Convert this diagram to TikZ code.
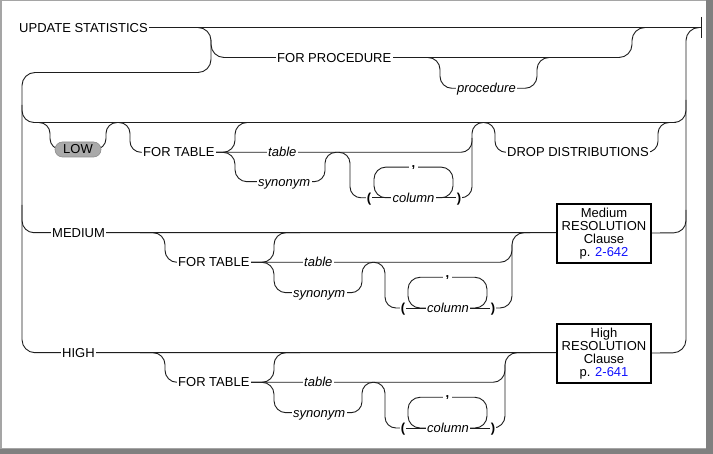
\documentclass[tikz,border=0pt]{standalone}
\usepackage{fontspec}
\setmainfont{Liberation Sans}
\definecolor{frameDark}{RGB}{128,128,128}
\definecolor{frameLight}{RGB}{165,165,165}
\definecolor{lowGray}{RGB}{170,170,170}
\definecolor{lowEdge}{RGB}{140,140,140}
\definecolor{linkBlue}{RGB}{20,20,255}
\definecolor{lineC}{RGB}{30,30,30}
\newcommand\kwfont{\fontsize{13}{13.1}\selectfont}
\pgfdeclarelayer{framelayer}
\pgfdeclarelayer{raillayer}
\pgfsetlayers{framelayer,raillayer,main}
\newcommand\ftrow[3]{%
 \begin{scope}[shift={(0,#1)}]
   \node[kwstyle] (ft#3) at (176.5,29.6) {FOR TABLE};
   \node[varstyle] (tb#3) at (302.5,29.6) {table};
   \node[varstyle] (sy#3) at (291.5,60) {synonym};
   \node[parstyle] (lp#3) at (403,75.3) {(};
   \node[varstyle,anchor=center] (col#3) at (448,75.3) {column};
   \node[parstyle] (rp#3) at (493,75.3) {)};
   \node[commastyle] (cm#3) at (447.5,44.6) {,};
   \begin{pgfonlayer}{raillayer}
     \draw[railpath] (140,0) -- (165,0) -- (165,29.6) -- (200,29.6);
     \draw[railpath] (ft#3.center) -- (274,29.6) -- (274,0) -- (300,0);
     \draw[railpath] (ft#3.center) -- (274,29.6) -- (274,60) -- (sy#3.center);
     \draw[railpath] (ft#3.center) -- (#2,29.6) -- (#2,12);
     \draw[railpath,rounded corners=11pt] (sy#3.center) -- (362,60) -- (362,29.6) -- (385,29.6) -- (385,75.3) -- (lp#3.center);
     \draw[railpath] (408,44.6) rectangle (487,75.3);
     \draw[railpath] (lp#3.center) -- (rp#3.center);
     \draw[railpath] (rp#3.center) -- (#2,75.3) -- (#2,0) -- (530,0);
   \end{pgfonlayer}
 \end{scope}}
\begin{document}
\begin{tikzpicture}[x=1pt,y=-1pt,
  kwstyle/.style={font=\kwfont, fill=white, inner sep=1.5pt, text height=9.3pt, text depth=0pt, anchor=west},
  varstyle/.style={kwstyle, font=\kwfont\itshape},
  parstyle/.style={kwstyle, font=\kwfont\bfseries, anchor=center, inner xsep=1pt},
  commastyle/.style={font=\kwfont\bfseries, fill=white, inner xsep=2.5pt, inner ysep=1pt, text height=1.5pt, text depth=1.5pt},
  railpath/.style={draw=lineC, line width=0.9pt, rounded corners=12pt},
  clausebox/.style={draw=black, line width=2.2pt, fill=white, minimum width=94pt, minimum height=59pt, inner sep=0pt, align=center, font=\kwfont},
  lowbox/.style={fill=lowGray, draw=lowEdge, line width=0.6pt, rounded corners=7.5pt, minimum width=46pt, minimum height=15pt, inner sep=0pt, font=\kwfont},
]
\useasboundingbox (0,0) rectangle (713,454);
\begin{pgfonlayer}{framelayer}
  \fill[frameDark] (0,0) rectangle (713,454);
  \fill[frameLight] (0,0) rectangle (706,449);
  \fill[white] (2,1.5) rectangle (705.5,448);
\end{pgfonlayer}

% ---- nodes ----
\node[kwstyle] (ustat) at (17.5,27.5) {UPDATE STATISTICS};
\node[kwstyle] (forproc) at (275.5,57.5) {FOR PROCEDURE};
\node[varstyle] (proc) at (455.5,88.3) {procedure};
\node[lowbox] (low) at (78,149.5) {LOW};
\node[kwstyle] (ft2) at (141.5,152.3) {FOR TABLE};
\node[varstyle] (tb2) at (266.5,152.3) {table};
\node[varstyle] (sy2) at (256.5,181.7) {synonym};
\node[parstyle] (lp2) at (369,197.8) {(};
\node[varstyle,anchor=center] (col2) at (413.5,197.8) {column};
\node[parstyle] (rp2) at (459,197.8) {)};
\node[commastyle] (cm2) at (413.5,167.1) {,};
\node[kwstyle] (drop) at (505.5,152.3) {DROP DISTRIBUTIONS};
\node[kwstyle] (med) at (50.5,232.7) {MEDIUM};
\node[kwstyle] (high) at (60.5,352.7) {HIGH};
\node[clausebox] (mbox) at (604,233.5) {Medium\\RESOLUTION\\Clause\\p. \textcolor{linkBlue}{2-642}};
\node[clausebox] (hbox) at (604,353.5) {High\\RESOLUTION\\Clause\\p. \textcolor{linkBlue}{2-641}};

% ---- rails ----
\begin{pgfonlayer}{raillayer}
  \draw[railpath] (ustat.east) -- (701,27.5);
  \draw[draw=lineC, line width=0.9pt] (701,17) -- (701,38);
  \draw[railpath,rounded corners=13pt] (185,27.5) -- (211,27.5) -- (211,72.5) -- (22,72.5) -- (22,352.7) -- (high.center) -- (580,352.7);
  \draw[railpath,rounded corners=13pt] (211,40) -- (211,57.5) -- (forproc.center);
  \draw[railpath,rounded corners=13pt] (forproc.center) -- (632,57.5) -- (632,27.5) -- (650,27.5);
  \draw[railpath] (420,57.5) -- (440,57.5) -- (440,88.3) -- (proc.center);
  \draw[railpath] (proc.center) -- (537,88.3) -- (537,57.5) -- (555,57.5);
  \draw[railpath,rounded corners=13pt] (hbox.center) -- (686,352.7) -- (686,27.5) -- (701,27.5);
  % LOW row
  \draw[railpath] (22,105) -- (22,122.5) -- (686,122.5) -- (686,100);
  \draw[railpath,rounded corners=11pt] (35,122.5) -- (50,122.5) -- (50,149.5) -- (low.center);
  \draw[railpath,rounded corners=11pt] (low.center) -- (106,149.5) -- (106,122.5) -- (130,122.5) -- (130,152.3) -- (ft2.center);
  \draw[railpath] (ft2.center) -- (235,152.3) -- (235,122.5) -- (260,122.5);
  \draw[railpath] (ft2.center) -- (235,152.3) -- (235,181.7) -- (sy2.center);
  \draw[railpath,rounded corners=11pt] (ft2.center) -- (472,152.3) -- (472,138);
  \draw[railpath,rounded corners=11pt] (sy2.center) -- (325,181.7) -- (325,152.3) -- (350,152.3) -- (350,197.8) -- (lp2.center);
  \draw[railpath] (374,167.1) rectangle (453,197.8);
  \draw[railpath] (lp2.center) -- (rp2.center);
  \draw[railpath,rounded corners=11pt] (rp2.center) -- (472,197.8) -- (472,122.5) -- (486,122.5);
  \draw[railpath,rounded corners=11pt] (470,122.5) -- (495,122.5) -- (495,152.3) -- (drop.center);
  \draw[railpath,rounded corners=11pt] (drop.center) -- (658,152.3) -- (658,122.5) -- (676,122.5);
  % MEDIUM row
  \draw[railpath] (22,205) -- (22,232.7) -- (med.center) -- (580,232.7);
  \draw[railpath] (mbox.center) -- (686,232.7) -- (686,210);
\end{pgfonlayer}

\ftrow{232.7}{512}{3}
\ftrow{352.7}{505}{4}
\end{tikzpicture}
\end{document}
